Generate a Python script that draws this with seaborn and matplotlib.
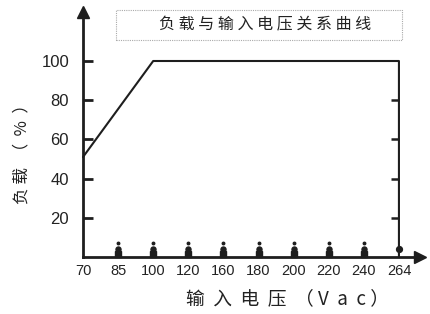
import matplotlib
matplotlib.use("Agg")
import matplotlib.pyplot as plt
import seaborn as sns
import pandas as pd
from matplotlib.patches import Rectangle
from matplotlib.lines import TICKLEFT

sns.set_theme(style="white")
plt.rcParams['font.family'] = ['Liberation Sans', 'Noto Sans CJK SC', 'DejaVu Sans']

# ---- data ----
voltages = ["70", "85", "100", "120", "160", "180", "200", "220", "240", "264"]
curve_volt = ["70", "100", "264", "264"]
curve_load = [51, 100, 100, 0]
y_ticks = [20, 40, 60, 80, 100]
right_ticks = [20, 40, 60, 80]
title = "负载与输入电压关系曲线"
xlabel = "输入电压（Vac）"
ylabel = "负载（%）"

df = pd.DataFrame({"pos": [voltages.index(v) for v in curve_volt], "load": curve_load})

fig = plt.figure(figsize=(4.30, 3.14), dpi=100)
ax = fig.add_axes([83 / 430, 57 / 314, 337 / 430, 245 / 314])

dark = "#1e1e1e"
cjk = ['Noto Sans CJK SC', 'DejaVu Sans']
sns.lineplot(data=df, x="pos", y="load", sort=False, estimator=None,
             color=dark, linewidth=1.5, ax=ax, clip_on=False)
ax.set_xlabel("")
ax.set_ylabel("")

# small dot markers above the x axis at each voltage tick
mid = list(range(1, len(voltages) - 1))
ax.plot(mid, [6.9] * len(mid), "o", color=dark, ms=1.8, clip_on=False)
ax.plot(mid, [4.1] * len(mid), "o", color=dark, ms=3.6, clip_on=False)
ax.plot(mid, [1.5] * len(mid), "s", color=dark, ms=4.0, clip_on=False)
ax.plot([len(voltages) - 1], [4.1], "o", color=dark, ms=4.2, clip_on=False)

# inward ticks on the right vertical line
ax.plot([len(voltages) - 1] * len(right_ticks), right_ticks, ls="none",
        marker=TICKLEFT, ms=6, mew=1.8, color=dark)

ax.set_xlim(0, 9.6)
ax.set_ylim(0, 125)
ax.set_xticks(range(len(voltages)))
ax.set_xticklabels(voltages, fontsize=10.5, color="#222222")
ax.set_yticks(y_ticks)
ax.set_yticklabels([str(t) for t in y_ticks], fontsize=12, color="#222222")
ax.tick_params(axis="x", length=0, pad=5)
ax.tick_params(axis="y", direction="in", length=7, width=2, color=dark, pad=10, left=True)

for s in ["top", "right"]:
    ax.spines[s].set_visible(False)
for s in ["left", "bottom"]:
    ax.spines[s].set_color(dark)
    ax.spines[s].set_linewidth(2)
ax.plot(1, 0, ">", color=dark, ms=8, transform=ax.transAxes, clip_on=False)
ax.plot(0, 1, "^", color=dark, ms=8, transform=ax.transAxes, clip_on=False)

fig.text(288 / 430, 1 - 299 / 314, "  ".join("输入电压") + "  （ V  a  c ）", fontsize=13.5,
         family=cjk, color="#222222", ha="center", va="center")
fig.text(22 / 430, 1 - 150 / 314, "负 载  （  %  ）", fontsize=12, rotation=90,
         family=cjk, color="#222222", ha="center", va="center")

# title box
fig.patches.append(Rectangle((116 / 430, 1 - 40 / 314), 286 / 430, 30 / 314,
                             transform=fig.transFigure, fill=False,
                             edgecolor="#aaaaaa", linewidth=0.8, linestyle=(0, (1, 1))))
fig.text(265 / 430, 1 - 25 / 314, " ".join(title), fontsize=11.5,
         family=cjk, color="#222222", ha="center", va="center")

fig.savefig("out.png", dpi=100)
